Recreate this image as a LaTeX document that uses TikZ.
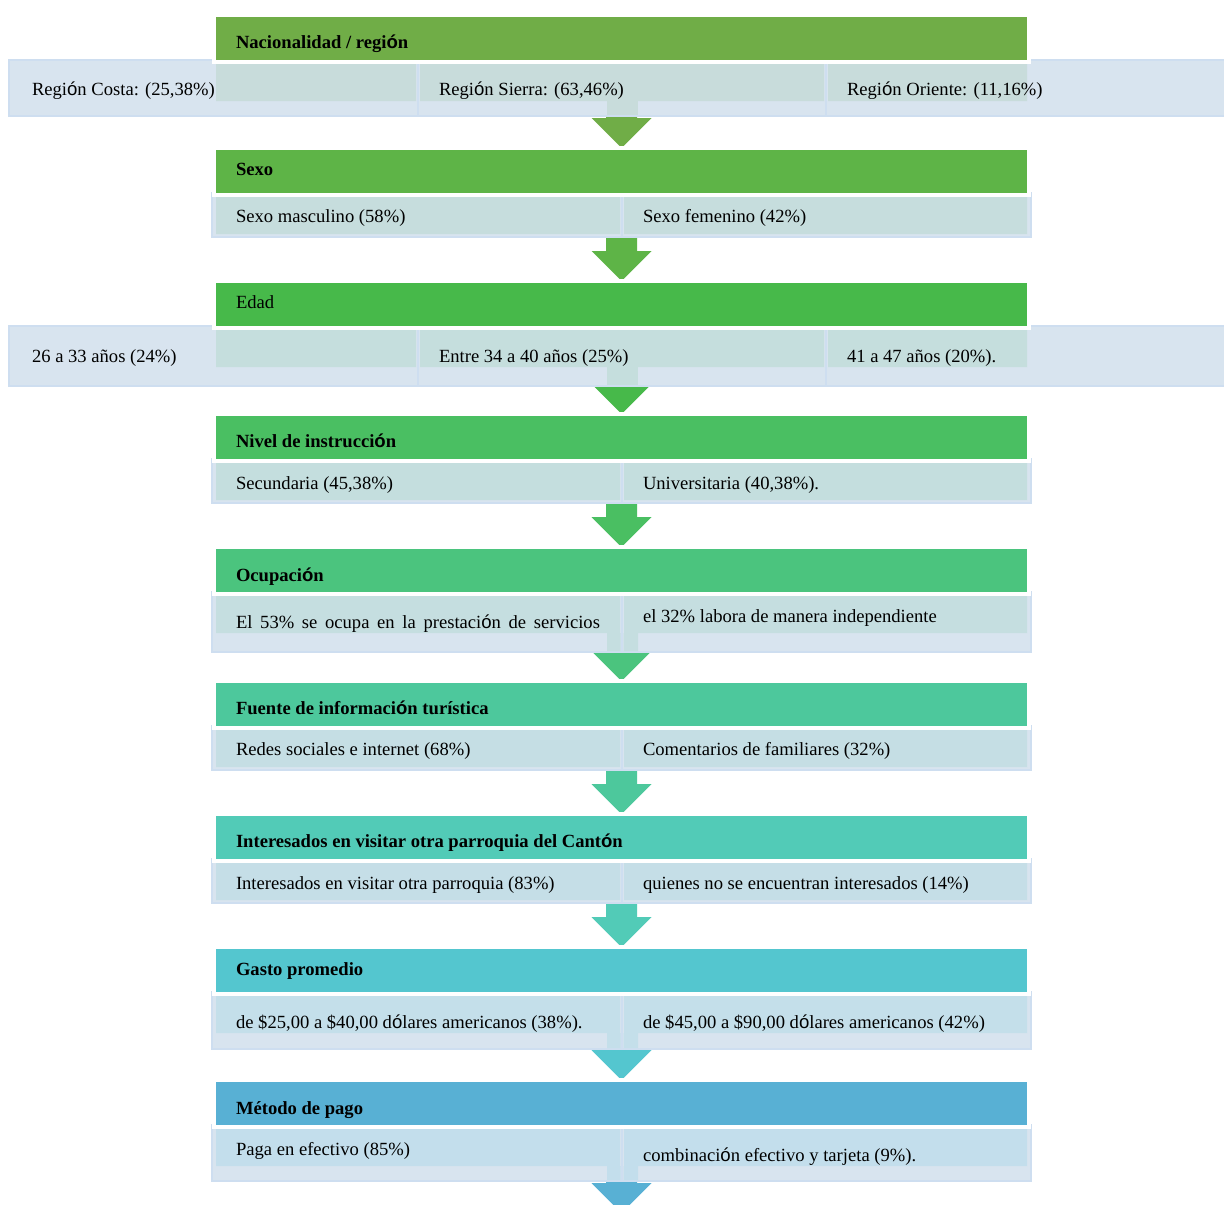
\documentclass[tikz,border=0pt]{standalone}
\usepackage{fontspec}
\setmainfont{Liberation Serif}
\newfontfamily\sansO{Liberation Sans}
\usetikzlibrary{calc}
\newcommand\oacc{{\sansO ó}}

\definecolor{hA}{HTML}{70AD47}
\definecolor{hB}{HTML}{5EB447}
\definecolor{hC}{HTML}{47B94A}
\definecolor{hD}{HTML}{4ABF62}
\definecolor{hE}{HTML}{4BC47E}
\definecolor{hF}{HTML}{4DC89C}
\definecolor{hG}{HTML}{52CBB7}
\definecolor{hH}{HTML}{54C6CF}
\definecolor{hI}{HTML}{58B0D4}

\definecolor{dA}{HTML}{C8DCDB}
\definecolor{dB}{HTML}{C6DDDD}
\definecolor{dC}{HTML}{C5DEDD}
\definecolor{dD}{HTML}{C4DEDE}
\definecolor{dE}{HTML}{C5DEE0}
\definecolor{dF}{HTML}{C5DEE4}
\definecolor{dG}{HTML}{C5DEE7}
\definecolor{dH}{HTML}{C4DFEA}
\definecolor{dI}{HTML}{C3DEEC}

\definecolor{lightbox}{HTML}{D8E4EF}
\definecolor{boxline}{HTML}{CEDEF0}

\tikzset{
  hdrbar/.style={draw=white, line width=4pt, minimum width=815pt, minimum height=47pt, inner sep=0pt, outer sep=0pt},
  subbox/.style={fill=lightbox, draw=boxline, line width=2pt, inner sep=0pt, outer sep=0pt},
  txt/.style={anchor=base west, inner sep=0pt, outer sep=0pt, text=black, font=\fontsize{18.6}{22}\selectfont},
  htxt/.style={txt, font=\fontsize{18.6}{22}\selectfont\bfseries},
}

% box: name, x1, y1, x2, y2
\newcommand\subboxnode[5]{%
  \node[subbox, minimum width={#4-#2}, minimum height={#5-#3}] (#1) at ({(#2+#4)/2},{(#3+#5)/2}) {};}
% block arrow: colour, from header, to header
\newcommand\blockarrow[3]{%
  \fill[#1] ($(#2.south)+(-15.5,0)$) -- ($(#2.south)+(15.5,0)$)
     -- ($(#3.north)+(15.5,-30)$) -- ($(#3.north)+(30,-30)$)
     -- (#3.north)
     -- ($(#3.north)+(-30,-30)$) -- ($(#3.north)+(-15.5,-30)$) -- cycle;}

\begin{document}
\begin{tikzpicture}[x=1pt,y=-1pt]
\useasboundingbox[fill=white] (0,0) rectangle (1224,1205);

% header frames (positions only, drawn later)
\path
  (621.5,38.5)  coordinate (c1)
  (621.5,171.5) coordinate (c2)
  (621.5,304.5) coordinate (c3)
  (621.5,437.5) coordinate (c4)
  (621.5,570.5) coordinate (c5)
  (621.5,704.5) coordinate (c6)
  (621.5,837.5) coordinate (c7)
  (621.5,970.5) coordinate (c8)
  (621.5,1103.5) coordinate (c9)
  (621.5,1236.5) coordinate (c10);

% invisible header shapes for connecting arrows
\foreach \i in {1,...,10}{
  \node[minimum width=815pt, minimum height=47pt, inner sep=0pt, outer sep=0pt] (h\i) at (c\i) {};
}

% arrows
\blockarrow{hA}{h1}{h2}
\blockarrow{hB}{h2}{h3}
\blockarrow{hC}{h3}{h4}
\blockarrow{hD}{h4}{h5}
\blockarrow{hE}{h5}{h6}
\blockarrow{hF}{h6}{h7}
\blockarrow{hG}{h7}{h8}
\blockarrow{hH}{h8}{h9}
\blockarrow{hI}{h9}{h10}

% stage 1 boxes
\subboxnode{b11}{9}{60}{418}{116}
\subboxnode{b12}{418}{60}{826}{116}
\subboxnode{b13}{826}{60}{1226}{116}
\fill[dA] (216,60) rectangle (416,101) (420,60) rectangle (824,101) (828,60) rectangle (1027,101);
\fill[dA] (607,101) rectangle (638,115);

% stage 2
\subboxnode{b21}{212}{193}{622}{237}
\subboxnode{b22}{622}{193}{1031}{237}
\fill[dB] (216,193) rectangle (620,234) (624,193) rectangle (1027,234);

% stage 3
\subboxnode{b31}{9}{326}{418}{386}
\subboxnode{b32}{418}{326}{826}{386}
\subboxnode{b33}{826}{326}{1226}{386}
\fill[dC] (216,326) rectangle (416,367) (420,326) rectangle (824,367) (828,326) rectangle (1027,367);
\fill[dC] (607,367) rectangle (638,385);

% stage 4
\subboxnode{b41}{212}{459}{622}{503}
\subboxnode{b42}{622}{459}{1031}{503}
\fill[dD] (216,459) rectangle (620,500) (624,459) rectangle (1027,500);

% stage 5
\subboxnode{b51}{212}{592}{622}{652}
\subboxnode{b52}{622}{592}{1031}{652}
\fill[dE] (216,592) rectangle (620,633) (624,592) rectangle (1027,633);
\fill[dE] (607,633) rectangle (620.5,651) (623.5,633) rectangle (638,651);

% stage 6
\subboxnode{b61}{212}{726}{622}{770}
\subboxnode{b62}{622}{726}{1031}{770}
\fill[dF] (216,726) rectangle (620,767) (624,726) rectangle (1027,767);

% stage 7
\subboxnode{b71}{212}{859}{622}{903}
\subboxnode{b72}{622}{859}{1031}{903}
\fill[dG] (216,859) rectangle (620,900) (624,859) rectangle (1027,900);

% stage 8
\subboxnode{b81}{212}{992}{622}{1049}
\subboxnode{b82}{622}{992}{1031}{1049}
\fill[dH] (216,992) rectangle (620,1033) (624,992) rectangle (1027,1033);
\fill[dH] (607,1033) rectangle (620.5,1048) (623.5,1033) rectangle (638,1048);

% stage 9
\subboxnode{b91}{212}{1125}{622}{1181}
\subboxnode{b92}{622}{1125}{1031}{1181}
\fill[dI] (216,1125) rectangle (620,1166) (624,1125) rectangle (1027,1166);
\fill[dI] (607,1166) rectangle (620.5,1180) (623.5,1166) rectangle (638,1180);

% header bars
\node[hdrbar, fill=hA] (H1) at (c1) {};
\node[hdrbar, fill=hB] (H2) at (c2) {};
\node[hdrbar, fill=hC] (H3) at (c3) {};
\node[hdrbar, fill=hD] (H4) at (c4) {};
\node[hdrbar, fill=hE] (H5) at (c5) {};
\node[hdrbar, fill=hF] (H6) at (c6) {};
\node[hdrbar, fill=hG] (H7) at (c7) {};
\node[hdrbar, fill=hH] (H8) at (c8) {};
\node[hdrbar, fill=hI] (H9) at (c9) {};

% header texts
\node[htxt] (t1) at (236,48)   {Nacionalidad / regi\oacc n};
\node[htxt] (t2) at (236,175)  {Sexo};
\node[txt]  (t3) at (236,308)  {Edad};
\node[htxt] (t4) at (236,447)  {Nivel de instrucci\oacc n};
\node[htxt] (t5) at (236,581)  {Ocupaci\oacc n};
\node[htxt] (t6) at (236,714)  {Fuente de informaci\oacc n turística};
\node[htxt] (t7) at (236,847)  {Interesados en visitar otra parroquia del Cant\oacc n};
\node[htxt] (t8) at (236,975)  {Gasto promedio};
\node[htxt] (t9) at (236,1114) {Método de pago};

% sub texts
\node[txt] (s11) at (32,95)  {Regi\oacc n Costa: (25,38\%)};
\node[txt] (s12) at (439,95) {Regi\oacc n Sierra: (63,46\%)};
\node[txt] (s13) at (847,95) {Regi\oacc n Oriente: (11,16\%)};

\node[txt] (s21) at (236,222) {Sexo masculino (58\%)};
\node[txt] (s22) at (643,222) {Sexo femenino (42\%)};

\node[txt] (s31) at (32,362)  {26 a 33 años (24\%)};
\node[txt] (s32) at (439,362) {Entre 34 a 40 años (25\%)};
\node[txt] (s33) at (847,362) {41 a 47 años (20\%).};

\node[txt] (s41) at (236,489) {Secundaria (45,38\%)};
\node[txt] (s42) at (643,489) {Universitaria (40,38\%).};

\node[txt] (s51) at (236,628) {\makebox[364pt][s]{El 53\% se ocupa en la prestaci\oacc n de servicios}};
\node[txt] (s52) at (643,622) {el 32\% labora de manera independiente};

\node[txt] (s61) at (236,755) {Redes sociales e internet (68\%)};
\node[txt] (s62) at (643,755) {Comentarios de familiares (32\%)};

\node[txt] (s71) at (236,889) {Interesados en visitar otra parroquia (83\%)};
\node[txt] (s72) at (643,889) {quienes no se encuentran interesados (14\%)};

\node[txt] (s81) at (236,1028) {de \$25,00 a \$40,00 d\oacc lares americanos (38\%).};
\node[txt] (s82) at (643,1028) {de \$45,00 a \$90,00 d\oacc lares americanos (42\%)};

\node[txt] (s91) at (236,1155) {Paga en efectivo (85\%)};
\node[txt] (s92) at (643,1161) {combinaci\oacc n efectivo y tarjeta (9\%).};
\end{tikzpicture}
\end{document}
